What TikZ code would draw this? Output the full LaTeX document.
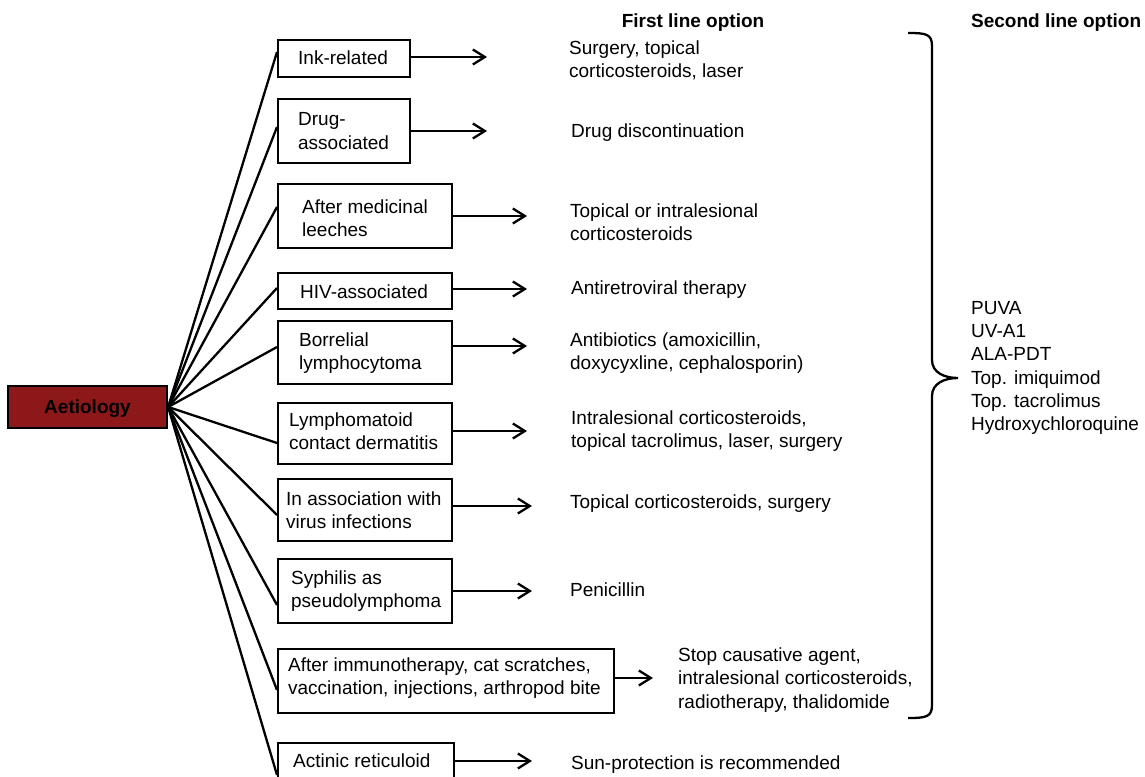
\documentclass[tikz,border=0pt]{standalone}
\usepackage{fontspec}
\setmainfont{Liberation Sans}
\usetikzlibrary{arrows.meta,calc}
\definecolor{aetred}{RGB}{140,24,26}
\begin{document}
\begin{tikzpicture}[x=1pt,y=-1pt, line width=2.3pt,
  every node/.style={font=\fontsize{19}{23.3}\selectfont, inner sep=0pt},
  box/.style={draw, anchor=north west, inner sep=0pt},
  lbl/.style={anchor=west, align=left, yshift=-2pt},
  hdr/.style={font=\fontsize{19}{23.3}\selectfont\bfseries, yshift=-2pt},
  arr/.style={-{Straight Barb[length=12pt,width=15pt]}}]
\useasboundingbox (0,0) rectangle (1145,776);
\clip (0,0) rectangle (1145,776);
% headers
\node[hdr] (h1) at (693,21) {First line option};
\node[hdr, anchor=west] (h2) at (970,21) {Second line option};
% root
\node[draw, fill=aetred, minimum width=159, minimum height=42, inner ysep=0pt] (aet) at (87.5,407) {};
\node[hdr] (aett) at (aet.center) {Aetiology};
% boxes
\node[box, minimum width=132, minimum height=37] (b1) at (277,39) {};
\node[box, minimum width=132, minimum height=64] (b2) at (277,98) {};
\node[box, minimum width=174, minimum height=64] (b3) at (277,183) {};
\node[box, minimum width=174, minimum height=36] (b4) at (277,272) {};
\node[box, minimum width=174, minimum height=63] (b5) at (277,320) {};
\node[box, minimum width=174, minimum height=61] (b6) at (277,402) {};
\node[box, minimum width=174, minimum height=62] (b7) at (277,478) {};
\node[box, minimum width=174, minimum height=64] (b8) at (277,558) {};
\node[box, minimum width=336, minimum height=64] (b9) at (277,648) {};
\node[box, minimum width=176, minimum height=40] (b10) at (277,742) {};
% box texts
\node[lbl] (t1) at (297,56) {Ink-related};
\node[lbl] (t2) at (297,129) {Drug-\\associated};
\node[lbl] (t3) at (301,216) {After medicinal\\leeches};
\node[lbl] (t4) at (299,290) {HIV-associated};
\node[lbl] (t5) at (298,351) {Borrelial\\lymphocytoma};
\node[lbl] (t6) at (288,429) {Lymphomatoid\\contact dermatitis};
\node[lbl] (t7) at (285,508) {In association with\\virus infections};
\node[lbl] (t8) at (290,589) {Syphilis as\\pseudolymphoma};
\node[lbl] (t9) at (287,676) {After immunotherapy, cat scratches,\\vaccination, injections, arthropod bite};
\node[lbl] (t10) at (292,759) {Actinic reticuloid};
% first line texts
\node[lbl] (r1) at (568,58) {Surgery, topical\\corticosteroids, laser};
\node[lbl] (r2) at (570,131) {Drug discontinuation};
\node[lbl] (r3) at (569,220) {Topical or intralesional\\corticosteroids};
\node[lbl] (r4) at (570,288) {Antiretroviral therapy};
\node[lbl] (r5) at (569,351) {Antibiotics (amoxicillin,\\doxycyxline, cephalosporin)};
\node[lbl] (r6) at (570,429) {Intralesional corticosteroids,\\topical tacrolimus, laser, surgery};
\node[lbl] (r7) at (569,502) {Topical corticosteroids, surgery};
\node[lbl] (r8) at (569,588) {Penicillin};
\node[lbl] (r9) at (677,678) {Stop causative agent,\\intralesional corticosteroids,\\radiotherapy, thalidomide};
\node[lbl] (r10) at (570,763) {Sun-protection is recommended};
% second line
\node[lbl, font=\fontsize{19}{23.2}\selectfont] (s) at (970,366) {PUVA\\UV-A1\\ALA-PDT\\Top. imiquimod\\Top. tacrolimus\\Hydroxychloroquine};
% arrow ends
\coordinate (a1) at (487,57);
\coordinate (a2) at (487,131);
\coordinate (a3) at (527,216);
\coordinate (a4) at (527,289);
\coordinate (a5) at (527,346);
\coordinate (a6) at (527,431);
\coordinate (a7) at (532,506);
\coordinate (a8) at (532,591);
\coordinate (a9) at (653,678);
\coordinate (a10) at (532,761);
\foreach \i in {1,...,10} {\draw[arr] (b\i.east |- a\i) -- (a\i);}
% fan lines
\draw (aet.east) -- ($(b1.north west)+(0,13)$);
\draw (aet.east) -- ($(b2.north west)+(0,29)$);
\draw (aet.east) -- ($(b3.north west)+(0,24)$);
\draw (aet.east) -- ($(b4.north west)+(0,16)$);
\draw (aet.east) -- ($(b5.north west)+(0,27)$);
\draw (aet.east) -- ($(b6.north west)+(0,41)$);
\draw (aet.east) -- ($(b7.north west)+(0,37)$);
\draw (aet.east) -- ($(b8.north west)+(0,47)$);
\draw (aet.east) -- ($(b9.north west)+(0,42)$);
\draw (aet.east) -- ($(b10.north west)+(0,33)$);
% brace
\draw (908,33) .. controls (926,33) and (932,34) .. (932,46) -- (932,360)
  .. controls (932,373) and (945,378) .. (958,378)
  .. controls (945,378) and (932,383) .. (932,396) -- (932,705)
  .. controls (932,717) and (926,718) .. (908,718);
\end{tikzpicture}
\end{document}
